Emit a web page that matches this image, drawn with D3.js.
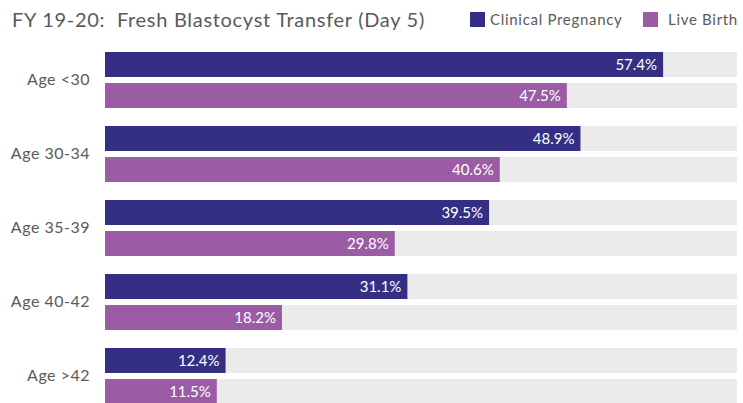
<!DOCTYPE html>
<html>
<head>
<meta charset="utf-8">
<script src="https://cdn.jsdelivr.net/npm/d3@7"></script>
<style>
  body { margin: 0; background: #fff; }
  text { font-family: 'Lato', 'DejaVu Sans', sans-serif; }
</style>
</head>
<body>
<svg id="chart" width="743" height="403"></svg>
<script>
// data
const categories = ['Age <30', 'Age 30-34', 'Age 35-39', 'Age 40-42', 'Age >42']
const seriesNames = ['Clinical Pregnancy', 'Live Birth']
const clinical = [57.4, 48.9, 39.5, 31.1, 12.4]
const liveBirth = [47.5, 40.6, 29.8, 18.2, 11.5]
const colors = ['#352f83', '#9b5ba5']

const svg = d3.select('#chart')

// + -- scales ------------------------------------------------------------ +
const x = d3.scaleLinear().domain([0, 65]).range([105, 737])
const y = d3.scaleBand().domain(categories).range([52, 52 + 74 * 5])
const ySub = d3.scaleBand().domain(seriesNames).range([0, 56]).paddingInner(6 / 31)

const rows = categories.map((c, i) => ({cat: c, vals: [clinical[i], liveBirth[i]]}))

const groups = svg.selectAll('g.grp')
  .data(rows)
  .enter().append('g')
  .attr('class', 'grp')
  .attr('transform', d => 'translate(0,' + y(d.cat) + ')')

const bars = groups.selectAll('g.bar')
  .data(d => d.vals.map((v, j) => ({name: seriesNames[j], v: v, j: j})))
  .enter().append('g')
  .attr('class', 'bar')

// gray track
bars.append('rect')
  .attr('x', x(0))
  .attr('y', d => ySub(d.name))
  .attr('width', x.range()[1] - x(0))
  .attr('height', ySub.bandwidth())
  .attr('fill', '#ebebeb')

bars.append('rect')
  .attr('x', x(0))
  .attr('y', d => ySub(d.name))
  .attr('width', d => x(d.v) - x(0))
  .attr('height', ySub.bandwidth())
  .attr('fill', d => colors[d.j])

bars.append('text')
  .attr('x', d => x(d.v) - 6)
  .attr('y', d => ySub(d.name) + ySub.bandwidth() / 2)
  .attr('dy', '0.36em')
  .attr('text-anchor', 'end')
  .attr('fill', '#fff')
  .style('font-size', '15px')
  .text(d => d.v.toFixed(1) + '%')

// category labels
const yAxis = svg.append('g')
  .attr('transform', 'translate(' + (x(0) - 2) + ',' + (-9) + ')')
  .call(d3.axisLeft(y).tickSize(0).tickPadding(13))
yAxis.select('.domain').remove()
yAxis.selectAll('text')
  .style('font-family', "'Lato', 'DejaVu Sans', sans-serif")
  .style('font-size', '16px')
  .style('letter-spacing', '0.5px')
  .attr('fill', '#5a5a5a')

// title
svg.append('text')
  .attr('x', 12)
  .attr('y', 27)
  .attr('fill', '#5a5a5a')
  .style('font-size', '20px')
  .style('letter-spacing', '0.7px')
  .attr('xml:space', 'preserve')
  .text('FY 19-20:  Fresh Blastocyst Transfer (Day 5)')

// legend
const legendX = [470, 643]
const legend = svg.selectAll('g.leg')
  .data(seriesNames)
  .enter().append('g')
  .attr('class', 'leg')
  .attr('transform', (d, i) => 'translate(' + legendX[i] + ',12)')
legend.append('rect')
  .attr('width', 15).attr('height', 15)
  .attr('fill', (d, i) => colors[i])
legend.append('text')
  .attr('x', (d, i) => i === 0 ? 20 : 25)
  .attr('y', 8)
  .attr('dy', '0.36em')
  .attr('fill', '#5a5a5a')
  .style('font-size', '15px')
  .style('letter-spacing', '0.7px')
  .text(d => d)
</script>
</body>
</html>
